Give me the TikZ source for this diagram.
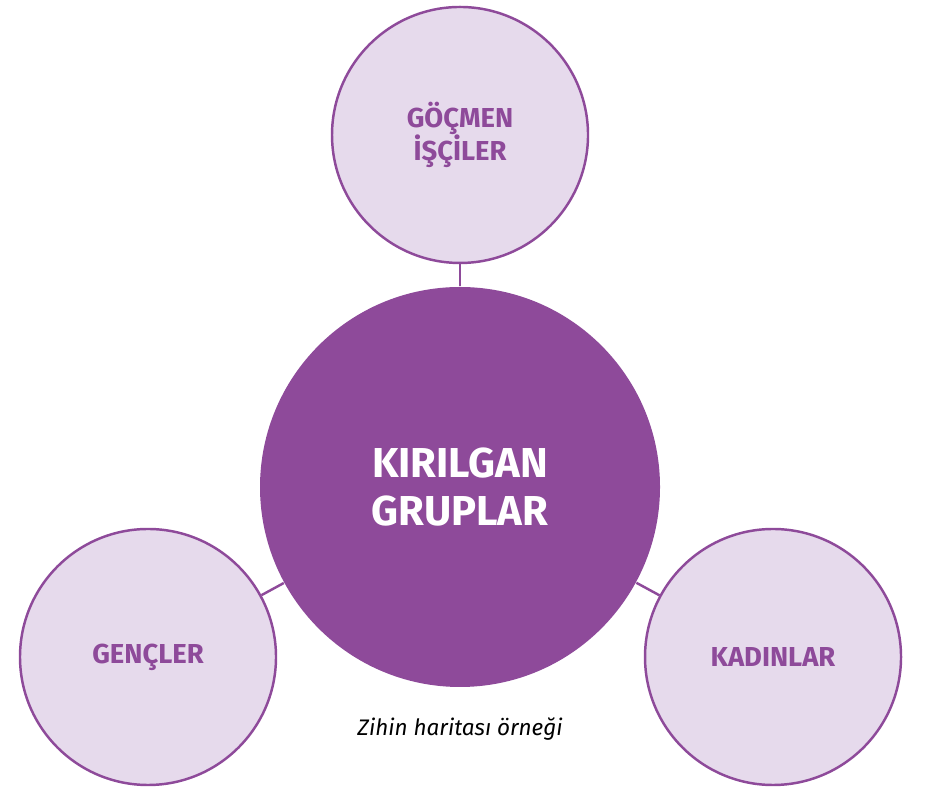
\documentclass[tikz,border=0pt]{standalone}
\usepackage{fontspec}
\setmainfont{Fira Sans}
\usepackage{xcolor}
\usepackage{tikz}
\usetikzlibrary{positioning, calc}

\definecolor{mor}{RGB}{142,74,154}
\definecolor{acikmor}{RGB}{230,218,236}

\begin{document}
\begin{tikzpicture}[
        group/.style={circle, draw=mor, line width=0.7pt, fill=acikmor, minimum size=2.56cm, inner sep=0pt, align=center, font=\fontsize{7.8}{9.4}\selectfont\bfseries, text=mor},
        hub/.style={circle, fill=mor, minimum size=4cm, inner sep=0pt, align=center, font=\fontsize{11.9}{13.4}\selectfont\bfseries, text=white},
        link/.style={draw=mor, line width=0.7pt}
    ]
    \useasboundingbox (0,0) rectangle (9.28,7.95);

    % Center
    \node[hub] (kirilgan) at (4.60, 3.08) {KIRILGAN\\GRUPLAR};

    % Groups
    \node[group] (gocmen) at (4.60, 6.60) {GÖÇMEN\\İŞÇİLER};
    \node[group] (gencler) at (1.48, 1.38) {GENÇLER};
    \node[group] (kadinlar) at (7.73, 1.38) {KADINLAR};

    % Links
    \draw[link] (kirilgan) -- (gocmen);
    \draw[link] (kirilgan) -- (gencler);
    \draw[link] (kirilgan) -- (kadinlar);

    % Caption
    \node[font=\fontsize{6.4}{8}\selectfont\itshape] (caption) at (4.60, 0.66) {Zihin haritası örneği};

\end{tikzpicture}
\end{document}
